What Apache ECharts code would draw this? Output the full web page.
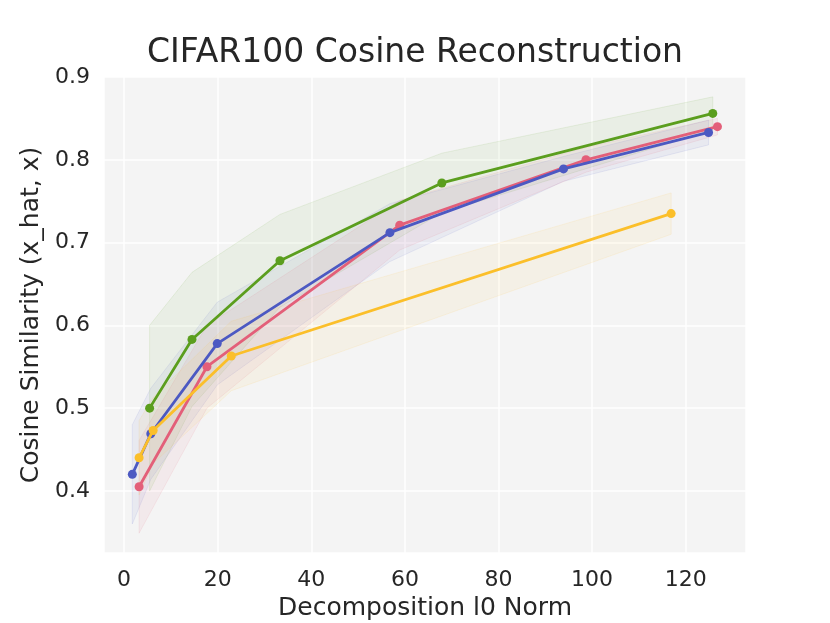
<!DOCTYPE html>
<html>
<head>
<meta charset="utf-8">
<script src="https://cdn.jsdelivr.net/npm/echarts@6/dist/echarts.min.js"></script>
<style>
  html, body { margin: 0; padding: 0; background: #fff; }
  #main { width: 830px; height: 623px; }
</style>
</head>
<body>
<div id="main"></div>
<script>
// values
var greenX = [5.45, 14.5, 33.3, 67.9, 125.8];
var greenY = [0.500, 0.583, 0.678, 0.772, 0.856];
var greenErr = [0.100, 0.081, 0.056, 0.036, 0.020];

var blueX = [1.75, 5.7, 19.9, 56.8, 93.9, 124.9];
var blueY = [0.420, 0.469, 0.578, 0.712, 0.789, 0.833];
var blueErr = [0.060, 0.055, 0.050, 0.035, 0.015, 0.015];

var redX = [3.2, 17.7, 58.9, 98.7, 126.8];
var redY = [0.405, 0.550, 0.721, 0.800, 0.840];
var redErr = [0.056, 0.050, 0.030, 0.015, 0.010];

var yellowX = [3.2, 6.2, 22.9, 116.9];
var yellowY = [0.440, 0.473, 0.563, 0.735];
var yellowErr = [0.045, 0.040, 0.042, 0.025];

var FONT = "'DejaVu Sans', sans-serif";

function rgba(rgb, a) {
    return 'rgba(' + rgb.join(',') + ',' + a + ')';
}

// shaded band y-err .. y+err, drawn as one polygon through the axis scales
function band(xs, ys, err, rgb) {
    var d = [];
    for (var i = 0; i < xs.length; i++) d.push([xs[i], ys[i] - err[i], ys[i] + err[i]]);
    return {
        type: 'custom', data: d, z: 1, silent: true,
        encode: { x: 0, y: [1, 2] },
        renderItem: function (params, api) {
            if (params.dataIndex !== 0) return;
            var top = [], bot = [];
            for (var j = 0; j < d.length; j++) {
                top.push(api.coord([d[j][0], d[j][2]]));
                bot.unshift(api.coord([d[j][0], d[j][1]]));
            }
            return {
                type: 'polygon',
                shape: { points: top.concat(bot) },
                style: { fill: rgba(rgb, 0.065), stroke: rgba(rgb, 0.1), lineWidth: 1 }
            };
        }
    };
}

function line(name, xs, ys, rgb, z) {
    var d = [];
    for (var i = 0; i < xs.length; i++) d.push([xs[i], ys[i]]);
    var c = rgba(rgb, 1);
    return {
        name: name, type: 'line', data: d, z: z,
        symbol: 'circle', symbolSize: 9,
        itemStyle: { color: c },
        lineStyle: { color: c, width: 2.8 }
    };
}

var cGreen = [91, 158, 30], cBlue = [76, 89, 194], cRed = [227, 95, 121], cYellow = [251, 191, 42];

var series = [
    band(greenX, greenY, greenErr, cGreen),
    band(blueX, blueY, blueErr, cBlue),
    band(redX, redY, redErr, cRed),
    band(yellowX, yellowY, yellowErr, cYellow),
    line('red', redX, redY, cRed, 3),
    line('blue', blueX, blueY, cBlue, 4),
    line('green', greenX, greenY, cGreen, 5),
    line('yellow', yellowX, yellowY, cYellow, 6)
];

var myChart = echarts.init(document.getElementById('main'));
var option = {
    backgroundColor: '#ffffff',
    animation: false,
    title: {
        text: 'CIFAR100 Cosine Reconstruction',
        left: 'center', top: 32,
        textStyle: { fontFamily: FONT, fontSize: 33, fontWeight: 'normal', color: '#262626' }
    },
    grid: {
        left: 104, right: 84, top: 77, bottom: 70,
        outerBoundsMode: 'none', containLabel: false,
        show: true, backgroundColor: '#f4f4f4', borderWidth: 0
    },
    xAxis: {
        type: 'value', min: -4.3, max: 132.9, splitNumber: 7,
        name: 'Decomposition l0 Norm', nameLocation: 'middle', nameGap: 42,
        nameTextStyle: { fontFamily: FONT, fontSize: 25, color: '#262626' },
        axisLine: { show: false }, axisTick: { show: false },
        axisLabel: { fontFamily: FONT, fontSize: 22, color: '#262626', margin: 16,
                     showMinLabel: false, showMaxLabel: false },
        splitLine: { lineStyle: { color: '#ffffff', width: 1.5 } }
    },
    yAxis: {
        type: 'value', min: 0.325, max: 0.9, splitNumber: 6,
        name: 'Cosine Similarity (x_hat, x)', nameLocation: 'middle', nameGap: 52,
        nameTextStyle: { fontFamily: FONT, fontSize: 25, color: '#262626' },
        axisLine: { show: false }, axisTick: { show: false },
        axisLabel: { fontFamily: FONT, fontSize: 22, color: '#262626', margin: 14,
                     showMinLabel: false,
                     formatter: function (v) { return v.toFixed(1); } },
        splitLine: { lineStyle: { color: '#ffffff', width: 1.5 } }
    },
    series: series
};
myChart.setOption(option);
</script>
</body>
</html>
